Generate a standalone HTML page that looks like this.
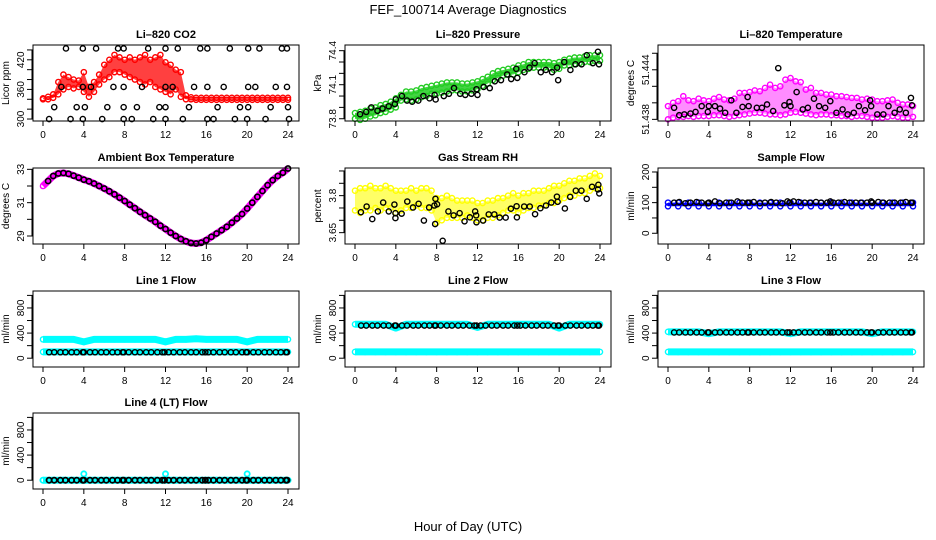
<!DOCTYPE html>
<html><head><meta charset="utf-8"><style>
html,body{margin:0;padding:0;background:#fff;}
svg{display:block;font-family:"Liberation Sans",Helvetica,Arial,sans-serif;}
</style></head><body>
<svg id="chart" width="936" height="540" viewBox="0 0 936 540">
<text x="468" y="14" text-anchor="middle" font-size="13">FEF_100714  Average Diagnostics</text>
<text x="468" y="531" text-anchor="middle" font-size="13">Hour of Day (UTC)</text>
</svg>
<script>
// ---- data ----
const halfHours = [0,0.5,1,1.5,2,2.5,3,3.5,4,4.5,5,5.5,6,6.5,7,7.5,8,8.5,9,9.5,10,10.5,11,11.5,12,12.5,13,13.5,14,14.5,15,15.5,16,16.5,17,17.5,18,18.5,19,19.5,20,20.5,21,21.5,22,22.5,23,23.5,24];
const hours = [0,1,2,3,4,5,6,7,8,9,10,11,12,13,14,15,16,17,18,19,20,21,22,23,24];
const blackHours = [0.6,1.1,1.7,2.2,2.8,3.3,3.9,4.0,4.6,5.1,5.7,6.2,6.8,7.3,7.8,7.9,8.4,9.0,9.5,10.1,10.6,11.2,11.7,11.9,12.3,12.8,13.4,13.9,14.5,15.0,15.6,15.9,16.2,16.7,17.3,17.8,18.4,18.9,19.5,19.9,20.0,20.6,21.1,21.7,22.2,22.8,23.3,23.8,23.9];
const xTicks = [0,4,8,12,16,20,24];

const co2Lo = [340,340,343,350,360,365,362,365,355,345,355,370,380,385,395,395,390,385,380,375,370,375,365,360,355,350,360,345,340,340,339,339,339,339,339,339,339,339,339,339,339,339,339,339,339,339,339,339,339];
const co2Hi = [342,345,350,375,390,385,380,378,395,365,375,390,410,420,430,425,420,425,420,425,430,420,425,430,415,410,400,395,348,344,343,343,343,343,343,343,343,343,343,343,343,343,343,343,343,343,343,343,343];
const co2BlackH = [2.25,3.9,5.2,7.35,7.9,10.3,12.0,13.2,15.4,16.1,18.3,20.1,21.2,23.4,23.9,1.8,3.9,4.7,6.9,7.9,9.7,12.0,12.7,14.8,16.1,17.7,20.1,20.8,22.8,23.9,1.1,3.3,4.1,6.3,7.9,9.2,11.4,12.0,14.3,17.1,19.3,20.1,22.3,24,0.6,2.7,3.9,5.8,7.9,8.7,10.8,12.0,13.7,16.1,16.7,18.8,20,21.8,24.1];
const co2BlackV = [443,443,443,443,443,443,443,443,443,443,443,443,443,443,443,365,365,365,365,365,365,365,365,365,365,365,365,365,365,365,324,324,324,324,324,324,324,324,324,324,324,324,324,324,300,300,300,300,300,300,300,300,300,300,300,300,300,300,300];

const presLo = [73.80,73.79,73.80,73.82,73.83,73.85,73.86,73.88,73.90,73.96,73.97,73.96,73.97,73.99,74.00,74.02,74.02,74.03,74.04,74.05,74.05,74.04,74.04,74.05,74.06,74.09,74.11,74.14,74.16,74.18,74.19,74.19,74.21,74.23,74.24,74.25,74.25,74.25,74.25,74.23,74.24,74.27,74.27,74.28,74.29,74.30,74.30,74.31,74.31];
const presHi = [73.85,73.86,73.87,73.89,73.90,73.92,73.93,73.95,73.98,74.01,74.04,74.04,74.05,74.07,74.08,74.09,74.10,74.11,74.12,74.12,74.12,74.11,74.11,74.12,74.13,74.15,74.17,74.20,74.22,74.23,74.24,74.25,74.27,74.28,74.30,74.30,74.30,74.30,74.30,74.29,74.30,74.32,74.33,74.34,74.34,74.35,74.36,74.36,74.36];
const presBlackH = [0.5,1.1,1.6,2.2,2.7,3.3,3.9,4.0,4.6,5.1,5.6,6.2,6.7,7.3,7.8,7.9,8.7,9.2,9.7,10.3,10.8,11.4,11.9,12.0,12.6,13.2,13.7,14.3,14.9,15.3,15.8,15.9,16.6,17.1,17.6,18.2,18.7,19.3,19.8,19.9,20.5,21.1,21.6,22.2,22.7,23.3,23.8,23.9];
const presBlackV = [73.84,73.86,73.90,73.87,73.89,73.91,73.93,73.97,74.00,73.96,73.95,73.96,74.00,73.98,74.01,73.97,74.00,74.02,74.07,74.02,74.01,74.02,74.06,74.01,74.08,74.07,74.13,74.14,74.19,74.15,74.24,74.16,74.21,74.25,74.29,74.21,74.23,74.21,74.25,74.14,74.30,74.23,74.28,74.28,74.36,74.29,74.39,74.28];

const tempLo = [51.4380,51.4382,51.4383,51.4383,51.4384,51.4383,51.4384,51.4384,51.4384,51.4385,51.4385,51.4384,51.4383,51.4384,51.4385,51.4386,51.4387,51.4388,51.4388,51.4387,51.4386,51.4386,51.4385,51.4386,51.4388,51.4389,51.4388,51.4387,51.4386,51.4385,51.4386,51.4386,51.4385,51.4385,51.4384,51.4384,51.4383,51.4384,51.4384,51.4383,51.4382,51.4382,51.4382,51.4383,51.4384,51.4383,51.4382,51.4382,51.4383];
const tempHi = [51.4396,51.4400,51.4402,51.4408,51.4403,51.4402,51.4405,51.4403,51.4402,51.4405,51.4407,51.4404,51.4403,51.4405,51.4412,51.4412,51.4413,51.4415,51.4414,51.4418,51.4422,51.4418,51.4420,51.4428,51.4430,51.4426,51.4425,51.4416,51.4418,51.4412,51.4412,51.4410,51.4410,51.4408,51.4408,51.4407,51.4406,51.4406,51.4404,51.4405,51.4404,51.4402,51.4402,51.4403,51.4404,51.4400,51.4398,51.4398,51.4396];
const tempBlackH = [0.6,1.1,1.6,2.2,2.7,3.3,3.9,4.0,4.6,5.1,5.6,6.2,6.7,7.3,7.8,7.9,8.7,9.2,9.7,10.3,10.8,11.4,11.9,12.0,12.6,13.2,13.7,14.3,14.8,15.4,15.9,16.5,17.1,17.6,18.2,18.7,19.3,19.8,19.9,20.5,21.1,21.6,22.2,22.7,23.3,23.8,23.9];
const tempBlackV = [51.4394,51.4385,51.4386,51.4387,51.4389,51.4396,51.4389,51.4396,51.4396,51.4393,51.4388,51.4403,51.4388,51.4395,51.4407,51.4396,51.4394,51.4394,51.4398,51.4390,51.4442,51.4397,51.4401,51.4396,51.4413,51.4392,51.4394,51.4405,51.4396,51.4394,51.4402,51.4388,51.4392,51.4386,51.4388,51.4396,51.4391,51.4403,51.4396,51.4386,51.4386,51.4396,51.4388,51.4392,51.4388,51.4406,51.4397];

const ambTemp = [32.0,32.3,32.6,32.75,32.78,32.73,32.62,32.5,32.38,32.28,32.15,32.0,31.85,31.68,31.5,31.3,31.1,30.88,30.67,30.45,30.25,30.05,29.85,29.62,29.42,29.2,29.0,28.82,28.68,28.58,28.55,28.6,28.75,28.95,29.15,29.35,29.55,29.8,30.05,30.32,30.65,31.0,31.35,31.7,32.05,32.35,32.6,32.8,33.05];

const rhLo = [3.74,3.73,3.74,3.74,3.75,3.74,3.75,3.75,3.73,3.74,3.75,3.75,3.76,3.75,3.75,3.74,3.69,3.70,3.71,3.71,3.71,3.71,3.72,3.71,3.70,3.70,3.71,3.71,3.72,3.73,3.74,3.74,3.73,3.74,3.75,3.75,3.76,3.76,3.77,3.77,3.78,3.79,3.80,3.80,3.81,3.81,3.82,3.83,3.83];
const rhHi = [3.82,3.83,3.83,3.84,3.83,3.83,3.84,3.83,3.82,3.82,3.82,3.83,3.82,3.83,3.83,3.82,3.79,3.79,3.80,3.79,3.78,3.78,3.78,3.78,3.77,3.77,3.78,3.78,3.79,3.79,3.80,3.81,3.80,3.81,3.81,3.82,3.82,3.82,3.83,3.84,3.84,3.85,3.86,3.86,3.87,3.87,3.88,3.89,3.88];
const rhBlackH = [0.58,1.14,1.69,2.24,2.76,3.31,3.86,3.96,3.96,4.57,5.12,5.68,6.23,6.75,7.26,7.78,7.88,7.85,8.04,8.59,9.15,9.66,10.25,10.73,11.25,11.77,11.87,11.90,12.55,13.10,13.65,14.17,14.76,15.27,15.83,15.86,16.57,17.12,17.64,18.16,18.71,19.23,19.78,19.85,20.56,21.08,21.63,22.18,22.70,23.22,23.84,23.80,23.93];
const rhBlackV = [3.733,3.756,3.705,3.736,3.772,3.736,3.764,3.709,3.729,3.727,3.776,3.752,3.767,3.699,3.752,3.760,3.787,3.685,3.765,3.617,3.736,3.720,3.729,3.696,3.712,3.736,3.720,3.692,3.699,3.724,3.724,3.711,3.711,3.747,3.757,3.712,3.756,3.756,3.725,3.749,3.760,3.772,3.796,3.775,3.748,3.795,3.820,3.820,3.787,3.836,3.844,3.825,3.809];

const sampleLo = [88,88,88,88,88,88,88,88,88,88,88,88,88,88,88,88,88,88,88,88,88,88,88,88,88];
const sampleHi = [100,100,100,100,100,100,100,100,100,100,100,100,100,100,100,100,100,100,100,100,100,100,100,100,100];
const sampleBlack = [100,102,98,100,102,100,98,100,104,98,100,100,104,100,100,100,102,98,100,102,100,98,104,100,104,102,100,100,102,100,100,104,100,100,102,100,100,100,100,104,100,102,100,100,100,100,102,100,100];

const line1Hi = [300,300,300,300,260,300,300,300,300,300,300,300,260,300,300,310,300,300,300,300,260,300,300,300,300];
const line1Lo = [100,100,100,100,100,100,100,100,100,100,100,100,100,100,100,100,100,100,100,100,100,100,100,100,100];
const line1Black = [95,95,95,95,95,95,95,95,95,95,95,95,95,95,95,95,95,95,95,95,95,95,95,95,95,95,95,95,95,95,95,95,95,95,95,95,95,95,95,95,95,95,95,95,95,95,95,95,95];
const line2Hi = [540,540,540,540,480,540,540,540,540,540,540,540,490,540,540,540,540,540,540,540,480,540,540,540,540];
const line2Lo = [100,100,100,100,100,100,100,100,100,100,100,100,100,100,100,100,100,100,100,100,100,100,100,100,100];
const line2Black = [520,520,520,520,520,520,520,520,520,520,520,520,520,520,520,520,520,520,520,520,520,520,520,520,520,520,520,520,520,520,520,520,520,520,520,520,520,520,520,520,520,520,520,520,520,520,520,520,520];
const line3Hi = [420,420,420,420,390,420,420,420,420,420,420,420,390,420,420,420,420,420,420,420,390,420,420,420,420];
const line3Lo = [100,100,100,100,100,100,100,100,100,100,100,100,100,100,100,100,100,100,100,100,100,100,100,100,100];
const line3Black = [410,410,410,410,410,410,410,410,410,410,410,410,410,410,410,410,410,410,410,410,410,410,410,410,410,410,410,410,410,410,410,410,410,410,410,410,410,410,410,410,410,410,410,410,410,410,410,410,410];
const line4Hi = [0,0,0,0,100,0,0,0,0,0,0,0,100,0,0,0,0,0,0,0,100,0,0,0,0];
const line4Lo = [0,0,0,0,0,0,0,0,0,0,0,0,0,0,0,0,0,0,0,0,0,0,0,0,0];
const line4Black = [0,0,0,0,0,0,0,0,0,0,0,0,0,0,0,0,0,0,0,0,0,0,0,0,0,0,0,0,0,0,0,0,0,0,0,0,0,0,0,0,0,0,0,0,0,0,0,0,0];

// ---- drawing ----
const NS = 'http://www.w3.org/2000/svg';
const svg = document.getElementById('chart');
const colX = [33, 345, 658];
const rowY = [45, 168, 291, 413];
const BW = 266, BH = 76;

function mk(tag, parent) { const e = document.createElementNS(NS, tag); parent.appendChild(e); return e; }

function panel(col, row, name, title, ylab, ymin, ymax, yticks, ylabels) {
  const x0 = colX[col], y0 = rowY[row];
  const g = mk('g', svg);
  
  
  const sx = h => x0 + 10 + h / 24 * 245;
  const sy = v => y0 + BH - (v - ymin) / (ymax - ymin) * BH;
  const t = mk('text', g);
  
  
  t.setAttribute('x', x0 + BW / 2); t.setAttribute('y', y0 - 7);
  t.setAttribute('text-anchor', 'middle'); t.setAttribute('font-size', '11'); t.setAttribute('font-weight', 'bold');
  t.textContent = title;
  const clip = mk('g', g);
  
  
  const box = mk('rect', g);
  
  
  box.setAttribute('x', x0); box.setAttribute('y', y0); box.setAttribute('width', BW); box.setAttribute('height', BH);
  box.setAttribute('fill', 'none'); box.setAttribute('stroke', '#000'); box.setAttribute('stroke-width', '1');
  const xa = mk('g', g);
  
  
  xTicks.forEach(h => {
    const l = mk('line', xa);
    
    
    l.setAttribute('x1', sx(h)); l.setAttribute('x2', sx(h)); l.setAttribute('y1', y0 + BH); l.setAttribute('y2', y0 + BH + 5);
    l.setAttribute('stroke', '#000');
    const tl = mk('text', xa);
    
    
    tl.setAttribute('x', sx(h)); tl.setAttribute('y', y0 + BH + 17);
    tl.setAttribute('text-anchor', 'middle'); tl.setAttribute('font-size', '10');
    tl.textContent = h;
  });
  const ya = mk('g', g);
  
  
  const al = mk('line', ya);
  
  
  al.setAttribute('x1', x0 - 1); al.setAttribute('x2', x0 - 1);
  al.setAttribute('y1', sy(yticks[0])); al.setAttribute('y2', sy(yticks[yticks.length - 1])); al.setAttribute('stroke', '#000');
  yticks.forEach(v => {
    const l = mk('line', ya);
    
    
    l.setAttribute('x1', x0 - 6); l.setAttribute('x2', x0); l.setAttribute('y1', sy(v)); l.setAttribute('y2', sy(v));
    l.setAttribute('stroke', '#000');
  });
  ylabels.forEach(v => {
    const tl = mk('text', ya);
    
    
    const yy = sy(v);
    tl.setAttribute('transform', 'translate(' + (x0 - 9) + ',' + yy + ') rotate(-90)');
    tl.setAttribute('text-anchor', 'middle'); tl.setAttribute('font-size', '10');
    tl.textContent = v;
  });
  const yl = mk('text', ya);
  
  
  yl.setAttribute('transform', 'translate(' + (x0 - 24) + ',' + (y0 + BH / 2) + ') rotate(-90)');
  yl.setAttribute('text-anchor', 'middle'); yl.setAttribute('font-size', '10');
  yl.textContent = ylab;
  return { g: clip, sx, sy };
}

function pts(p, name, xs, vs, color, sw) {
  const g = mk('g', p.g);
  
  
  const n = Math.min(xs.length, vs.length);
  for (let i = 0; i < n; i++) {
    const c = mk('circle', g);
    
    
    c.setAttribute('cx', p.sx(xs[i])); c.setAttribute('cy', p.sy(vs[i])); c.setAttribute('r', 2.6);
    c.setAttribute('fill', 'none'); c.setAttribute('stroke', color); c.setAttribute('stroke-width', sw || 1.4);
  }
}
function band(p, name, xs, lo, hi, color, op) {
  const n = Math.min(xs.length, lo.length, hi.length);
  let d = '';
  for (let i = 0; i < n; i++) d += (i ? 'L' : 'M') + p.sx(xs[i]) + ',' + p.sy(hi[i]);
  for (let i = n - 1; i >= 0; i--) d += 'L' + p.sx(xs[i]) + ',' + p.sy(lo[i]);
  const path = mk('path', p.g);
  
  
  path.setAttribute('d', d + 'Z'); path.setAttribute('fill', color); path.setAttribute('fill-opacity', op); path.setAttribute('stroke', 'none');
  pts(p, name + '-upper', xs, hi, color);
  pts(p, name + '-lower', xs, lo, color);
}
function thick(p, name, xs, vs, color) {
  const n = Math.min(xs.length, vs.length);
  let d = '';
  for (let i = 0; i < n; i++) d += (i ? 'L' : 'M') + p.sx(xs[i]) + ',' + p.sy(vs[i]);
  const path = mk('path', p.g);
  
  
  path.setAttribute('d', d); path.setAttribute('fill', 'none'); path.setAttribute('stroke', color); path.setAttribute('stroke-width', '7'); path.setAttribute('stroke-linejoin', 'round');
  pts(p, name, xs, vs, color);
}

let p = panel(0, 0, 'co2', 'Li\u2013820 CO2', 'Licor ppm', 296, 450, [300,320,340,360,380,400,420,440], [300,360,420]);
band(p, 'co2-red', halfHours, co2Lo, co2Hi, '#ff0000', 0.75);
pts(p, 'co2-black', co2BlackH, co2BlackV, '#000');

p = panel(1, 0, 'pressure', 'Li\u2013820 Pressure', 'kPa', 73.78, 74.45, [73.8,73.9,74.0,74.1,74.2,74.3,74.4], [73.8,74.1,74.4]);
band(p, 'pressure-green', halfHours, presLo, presHi, '#22cc22', 0.85);
pts(p, 'pressure-black', presBlackH, presBlackV, '#000');

p = panel(2, 0, 'li820-temp', 'Li\u2013820 Temperature', 'degrees C', 51.4378, 51.4470, [51.438,51.440,51.442,51.444,51.446], [51.438,51.444]);
band(p, 'temp-magenta', halfHours, tempLo, tempHi, '#ff00ff', 0.45);
pts(p, 'temp-black', tempBlackH, tempBlackV, '#000');

p = panel(0, 1, 'ambient', 'Ambient Box Temperature', 'degrees C', 28.52, 33.08, [29,30,31,32,33], [29,31,33]);
thick(p, 'ambient-magenta', halfHours, ambTemp, '#ff00ff');
pts(p, 'ambient-black', halfHours.slice(1), ambTemp.slice(1), '#000', 1.6);

p = panel(1, 1, 'gas-rh', 'Gas Stream RH', 'percent', 3.604, 3.912, [3.65,3.70,3.75,3.80,3.85,3.90], [3.65,3.80]);
band(p, 'rh-yellow', halfHours, rhLo, rhHi, '#ffff00', 0.6);
pts(p, 'rh-black', rhBlackH, rhBlackV, '#000');

p = panel(2, 1, 'sample-flow', 'Sample Flow', 'ml/min', -35, 213, [0,50,100,150,200], [0,100,200]);
band(p, 'sample-blue', hours, sampleLo, sampleHi, '#0000ff', 1);
pts(p, 'sample-black', blackHours, sampleBlack, '#000');

const fT = [0,200,400,600,800,1000], fL = [0,400,800];
p = panel(0, 2, 'line1', 'Line 1 Flow', 'ml/min', -140, 1070, fT, fL);
thick(p, 'line1-cyan-high', hours, line1Hi, '#00ffff');
thick(p, 'line1-cyan-low', hours, line1Lo, '#00ffff');
pts(p, 'line1-black', blackHours, line1Black, '#000');

p = panel(1, 2, 'line2', 'Line 2 Flow', 'ml/min', -140, 1070, fT, fL);
thick(p, 'line2-cyan-high', hours, line2Hi, '#00ffff');
thick(p, 'line2-cyan-low', hours, line2Lo, '#00ffff');
pts(p, 'line2-black', blackHours, line2Black, '#000');

p = panel(2, 2, 'line3', 'Line 3 Flow', 'ml/min', -140, 1070, fT, fL);
thick(p, 'line3-cyan-high', hours, line3Hi, '#00ffff');
thick(p, 'line3-cyan-low', hours, line3Lo, '#00ffff');
pts(p, 'line3-black', blackHours, line3Black, '#000');

p = panel(0, 3, 'line4', 'Line 4 (LT) Flow', 'ml/min', -140, 1070, fT, fL);
pts(p, 'line4-cyan-high', hours, line4Hi, '#00ffff', 1.8);
thick(p, 'line4-cyan-low', hours, line4Lo, '#00ffff');
pts(p, 'line4-black', blackHours, line4Black, '#000', 1.8);
</script>
</body></html>
